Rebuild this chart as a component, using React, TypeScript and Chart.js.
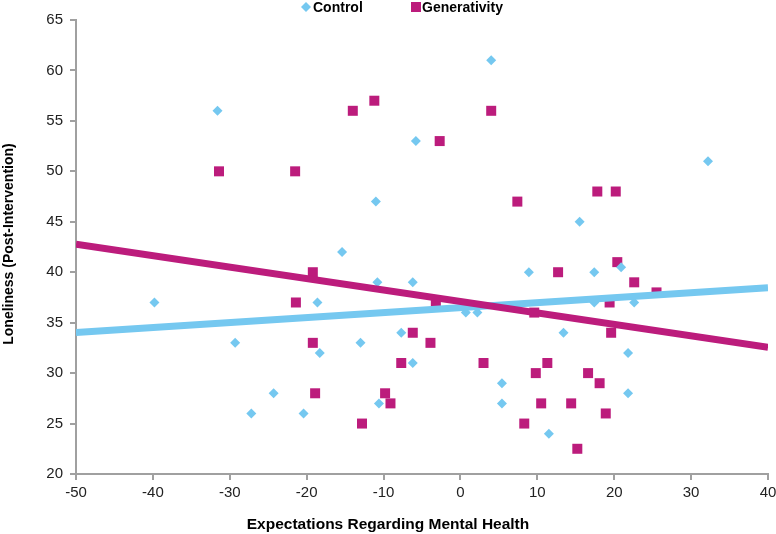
import React, { useEffect, useRef } from "react";
import { Chart, registerables } from "chart.js";

Chart.register(...registerables);

const seriesNames = ["Control", "Generativity"];
const xTitle = "Expectations Regarding Mental Health";
const yTitle = "Loneliness (Post-Intervention)";

const controlX = [-39.8, -31.6, -29.3, -27.2, -24.3, -20.4, -18.6, -18.3, -15.4, -13.0, -11.0, -10.8, -10.6, -7.7, -6.2, -6.2, -5.8, 0.7, 2.2, 4.0, 5.4, 5.4, 8.9, 11.5, 13.4, 15.5, 17.4, 17.4, 20.9, 21.8, 21.8, 22.6, 32.2];
const controlY = [37, 56, 33, 26, 28, 26, 37, 32, 42, 33, 47, 39, 27, 34, 39, 31, 53, 36, 36, 61, 29, 27, 40, 24, 34, 45, 40, 37, 40.5, 32, 28, 37, 51];

const genX = [-31.4, -21.5, -14.0, -11.2, 4.0, -2.7, 7.4, 17.8, 20.2, -19.2, -21.4, -19.2, -18.9, -9.8, -9.1, -12.8, -7.7, -3.2, -6.2, -3.9, 3.0, 9.6, 12.7, 9.8, 11.3, 10.5, 8.3, 14.4, 15.2, 16.6, 18.1, 18.9, 19.4, 19.6, 20.4, 22.6, 25.5];
const genY = [50, 50, 56, 57, 56, 53, 47, 48, 48, 40, 37, 33, 28, 28, 27, 25, 31, 37, 34, 33, 31, 36, 40, 30, 31, 27, 25, 27, 22.5, 30, 29, 26, 37, 34, 41, 39, 38];

const trendX = [-50, 40];
const controlTrendY = [34.03, 38.46];
const genTrendY = [42.77, 32.56];

const xMin = -50, xMax = 40, xStep = 10;
const yMin = 20, yMax = 65, yStep = 5;

const BLUE = "#75C8F0";
const MAGENTA = "#BC1C7C";
const AXIS = "#A0A0A0";
const FONT = "'Liberation Sans', Arial, sans-serif";

const zip = (xs: number[], ys: number[]) => xs.map((x, i) => ({ x, y: ys[i] }));

export default function App() {
  const ref = useRef<HTMLCanvasElement | null>(null);
  useEffect(() => {
    document.body.style.margin = "0";
    const canvas = ref.current!;
    const overlay = {
      id: "overlay",
      afterDraw(chart: any) {
        const ctx = chart.ctx;
        const area = chart.chartArea;
        ctx.save();
        ctx.fillStyle = "#000";
        ctx.font = `bold 14px ${FONT}`;
        ctx.textBaseline = "alphabetic";
        // legend
        ctx.fillStyle = BLUE;
        ctx.beginPath();
        ctx.moveTo(301, 7);
        ctx.lineTo(306, 2);
        ctx.lineTo(311, 7);
        ctx.lineTo(306, 12);
        ctx.closePath();
        ctx.fill();
        ctx.fillStyle = "#000";
        ctx.textAlign = "left";
        ctx.fillText(seriesNames[0], 313, 12);
        ctx.fillStyle = MAGENTA;
        ctx.fillRect(411, 2, 10, 10);
        ctx.fillStyle = "#000";
        ctx.fillText(seriesNames[1], 422, 12);
        // x title
        ctx.textAlign = "center";
        ctx.font = `bold 15.5px ${FONT}`;
        ctx.fillText(xTitle, 388, 529);
        // y title
        ctx.font = `bold 14px ${FONT}`;
        ctx.translate(13, (area.top + area.bottom) / 2 - 3);
        ctx.rotate(-Math.PI / 2);
        ctx.fillText(yTitle, 0, 0);
        ctx.restore();
      },
    };
    const chart = new Chart(canvas, {
      type: "scatter",
      data: {
        datasets: [
          {
            label: seriesNames[1] + " trend",
            data: zip(trendX, genTrendY),
            showLine: true,
            borderColor: MAGENTA,
            borderWidth: 7,
            pointRadius: 0,
            order: 0,
          },
          {
            label: seriesNames[0] + " trend",
            data: zip(trendX, controlTrendY),
            showLine: true,
            borderColor: BLUE,
            borderWidth: 7,
            pointRadius: 0,
            order: 1,
          },
          {
            label: seriesNames[0],
            data: zip(controlX, controlY),
            pointStyle: "rectRot",
            pointRadius: 5,
            pointBorderWidth: 0,
            backgroundColor: BLUE,
            borderColor: BLUE,
            order: 2,
          },
          {
            label: seriesNames[1],
            data: zip(genX, genY),
            pointStyle: "rect",
            pointRadius: 7.07,
            pointBorderWidth: 0,
            backgroundColor: MAGENTA,
            borderColor: MAGENTA,
            order: 3,
          },
        ],
      },
      options: {
        animation: false,
        responsive: false,
        maintainAspectRatio: false,
        layout: { padding: { top: 20, right: 0, bottom: 0, left: 0 } },
        plugins: { legend: { display: false }, tooltip: { enabled: false } },
        scales: {
          x: {
            type: "linear",
            min: xMin,
            max: xMax,
            afterFit: (s: any) => { s.height = 60; s.paddingRight = 8; s.paddingLeft = 0; },
            ticks: { stepSize: xStep, color: "#222", font: { family: FONT, size: 15 }, padding: 4 },
            grid: { drawOnChartArea: false, drawTicks: true, tickLength: 6, color: AXIS, lineWidth: 2 },
            border: { color: AXIS, width: 2 },
          },
          y: {
            type: "linear",
            min: yMin,
            max: yMax,
            afterFit: (s: any) => { s.width = 76; s.paddingTop = 0; s.paddingBottom = 0; },
            ticks: { stepSize: yStep, color: "#222", font: { family: FONT, size: 15 }, padding: 7 },
            grid: { drawOnChartArea: false, drawTicks: true, tickLength: 6, color: AXIS, lineWidth: 2 },
            border: { color: AXIS, width: 2 },
          },
        },
      },
      plugins: [overlay],
    });
    return () => chart.destroy();
  }, []);
  return (
    <div style={{ position: "absolute", left: 0, top: 0, width: 776, height: 534 }}>
      <canvas ref={ref} width={776} height={534} style={{ width: 776, height: 534 }} />
    </div>
  );
}
